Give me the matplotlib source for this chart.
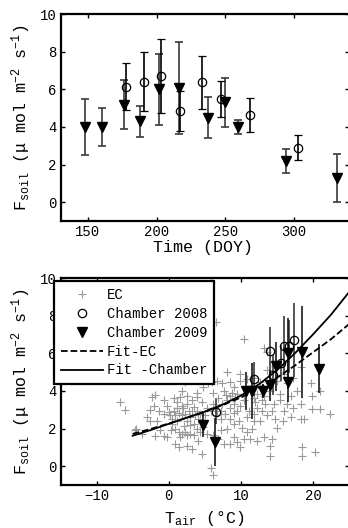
import numpy as np
import matplotlib
matplotlib.use("Agg")
import matplotlib.pyplot as plt
from matplotlib.lines import Line2D

plt.rcParams['font.family'] = ['Liberation Mono', 'DejaVu Sans']
plt.rcParams['mathtext.fontset'] = 'custom'
plt.rcParams['mathtext.rm'] = 'Liberation Mono'
plt.rcParams['mathtext.it'] = 'Liberation Mono'
plt.rcParams['font.size'] = 10

# chamber 2009 (triangles)
doy_2009 = [148, 160, 176, 188, 202, 216, 237, 250, 259, 294, 331]
flux_2009 = [4.0, 4.0, 5.18, 4.3, 6.0, 6.07, 4.5, 5.3, 4.0, 2.2, 1.27]
err_2009 = [1.5, 1.0, 1.3, 0.83, 1.9, 2.47, 1.1, 1.3, 0.37, 0.65, 1.27]
tair_2009 = [11.6, 10.7, 20.9, 14.0, 16.6, 18.5, 16.6, 14.9, 13.1, 4.75, 6.45]

# chamber 2008 (circles)
doy_2008 = [178, 191, 203, 217, 233, 247, 268, 303]
flux_2008 = [6.13, 6.4, 6.7, 4.84, 6.38, 5.48, 4.63, 2.9]
err_2008 = [1.25, 1.56, 1.95, 1.06, 1.4, 0.97, 0.9, 0.65]
tair_2008 = [14.0, 16.0, 17.4, 14.4, 16.7, 15.6, 11.8, 6.55]

# eddy covariance points
ec_t = [-6.7, -6.0, -4.7, -3.7, -2.6, -2.3, -1.9, -1.4, -0.7, -0.7, -2.6, -1.6, -1.2, -0.7, -1.9,
        -0.25, 0.0, 0.2, 0.45, 0.7, 0.9, 1.1, 0.45, 0.9, 1.4, 1.8, 2.3, 2.5, 3.0, 3.45,
        1.6, 0.9, 1.4, 2.5, 3.2, 4.6, 4.1, 5.8, 6.2, 2.1, 2.5, 3.0, 3.45, 3.9, 4.4,
        4.8, 5.3, 1.8, 2.3, 3.2, 3.9, 4.4, 2.5, 3.2, 3.9, 4.6, 5.3, 0.7, 1.6, 2.5,
        1.8, 3.9, 4.8, 5.5, 5.3, 6.0, 6.7, 7.4, 8.1, 8.5, 9.0, 9.9, 9.5, 6.2, 6.9,
        7.4, 8.1, 8.5, 9.0, 9.5, 9.9, 10.4, 6.2, 5.8, 6.5, 7.2, 7.8, 8.5, 9.0, 9.7,
        10.2, 10.9, 11.1, 11.8, 12.3, 12.9, 13.4, 11.8, 12.7, 13.6, 14.3, 14.6, 15.5, 16.4, 16.0,
        17.3, 18.3, 19.9, 21.0, 22.4, 18.3, 18.7, 18.5, 18.5, 20.3, 14.1, 14.1, 15.0, 14.3, 13.2,
        12.2, 11.3, 10.4, 9.5, 9.0, 10.9, 11.5, 8.1, 7.2, 6.2, 6.9, 7.6, 8.5, 9.9, 13.6,
        14.8, 16.0, 15.0, 16.4, 17.3, 18.3, 19.7, 19.9, 21.0, 14.1, 13.2, 12.3, 11.8, 11.3, 12.7,
        13.6, 13.2, 15.5, 16.9, 17.8, 5.8, 6.5, 10.4, 4.8, 4.1, 3.2, 2.3, 9.9, 10.9, 11.8,
        9.0, 6.7, 5.1, 4.1, 16.9, 15.8, 14.8, 1.1, 1.8, 1.4, 2.8, 3.5, 3.7, 7.6, 8.5,
        9.2, 7.2, -4.6, -3.0, -2.0, -0.3, 0.3, 1.2, 2.0, 2.9, 7.9, 8.8, 12.0, 13.0]
ec_f = [3.4, 3.0, 1.9, 1.7, 3.0, 3.7, 3.8, 2.95, 3.5, 2.8, 2.4, 2.4, 1.9, 1.6, 1.6,
        1.55, 2.9, 2.7, 2.5, 2.95, 2.7, 2.4, 2.25, 2.0, 1.8, 1.7, 1.8, 1.65, 1.7, 1.65,
        1.55, 1.2, 1.0, 1.1, 0.9, 0.65, 1.35, -0.1, -0.45, 2.15, 2.4, 2.6, 2.25, 2.0, 1.8,
        2.1, 1.7, 2.7, 2.8, 2.95, 2.95, 2.8, 3.3, 3.5, 3.7, 3.4, 3.1, 3.6, 3.7, 3.75,
        4.0, 3.9, 4.2, 4.4, 4.6, 4.45, 4.55, 4.4, 5.0, 4.45, 4.2, 4.55, 3.85, 3.9, 3.65,
        3.3, 3.5, 3.1, 3.3, 2.95, 3.2, 3.5, 3.3, 2.95, 2.7, 2.5, 2.8, 2.5, 2.25, 2.4,
        2.05, 2.6, 2.95, 2.8, 3.1, 2.95, 3.3, 2.4, 2.4, 2.7, 2.95, 3.3, 3.5, 3.3, 2.95,
        3.1, 3.3, 3.05, 3.05, 2.8, 2.5, 2.5, 1.0, 0.55, 0.75, 1.1, 0.55, 2.05, 1.45, 1.55,
        1.35, 1.45, 1.45, 1.3, 1.55, 1.8, 2.0, 2.0, 1.9, 1.65, 1.45, 1.2, 1.2, 1.0, 5.1,
        5.35, 4.9, 4.55, 4.4, 4.7, 5.25, 4.4, 3.75, 4.0, 4.0, 3.75, 3.85, 3.6, 4.0, 4.45,
        6.05, 6.3, 3.85, 3.75, 4.0, 9.77, 7.65, 6.76, 4.9, 4.55, 4.7, 4.45, 4.9, 4.65, 4.7,
        2.85, 2.95, 2.7, 2.5, 2.6, 2.4, 2.5, 3.1, 3.2, 2.85, 2.95, 3.15, 2.7, 4.0, 3.75,
        3.6, 2.95, 2.0, 2.6, 3.2, 3.2, 1.9, 3.4, 3.1, 2.2, 3.8, 3.9, 3.4, 3.5]

# fitted curves
fit_t = [-5, -2.5, 0, 2.5, 5, 7.5, 10, 12.5, 15, 17.5, 20, 22.5, 25]
fit_ec = [1.72, 1.98, 2.27, 2.57, 2.9, 3.25, 3.65, 4.15, 4.7, 5.35, 6.05, 6.75, 7.55]
fit_ch = [1.62, 1.92, 2.25, 2.58, 2.9, 3.28, 3.75, 4.35, 5.1, 6.0, 7.0, 8.05, 9.25]

ylab = r'F$_{\rm soil}$ (μ mol m$^{-2}$ s$^{-1}$)'

fig = plt.figure(figsize=(3.48, 5.28), dpi=100)
ax1 = fig.add_axes([0.1739, 0.5814, 0.829, 0.392])
ax2 = fig.add_axes([0.1739, 0.0814, 0.829, 0.392])

# top: time series
ax1.errorbar(doy_2009, flux_2009, yerr=err_2009, fmt='v', color='k', ecolor='#3a3a3a',
             ms=7, elinewidth=1.2, capsize=3, capthick=1.2)
ax1.errorbar(doy_2008, flux_2008, yerr=err_2008, fmt='o', color='k', mfc='none',
             ms=6, mew=0.9, elinewidth=1.2, capsize=3, capthick=1.2)
ax1.set_xlim(130, 340)
ax1.set_xticks([150, 200, 250, 300])
ax1.set_xlabel('Time (DOY)', fontsize=12)
ax1.xaxis.set_label_coords(0.495, -0.09)

# bottom: temperature response
ax2.plot(ec_t, ec_f, '+', color='#999999', ms=6, mew=0.8)
ax2.errorbar(tair_2008, flux_2008, yerr=err_2008, fmt='none', ecolor='#3a3a3a',
             elinewidth=1.2, capsize=0)
ax2.errorbar(tair_2009, flux_2009, yerr=err_2009, fmt='none', ecolor='#1a1a1a',
             elinewidth=1.2, capsize=0)
ax2.plot(tair_2008, flux_2008, 'o', color='k', mfc='none', ms=6, mew=0.9)
ax2.plot(tair_2009, flux_2009, 'v', color='k', ms=7)
ax2.plot(fit_t, fit_ec, '--', color='k', lw=1.3)
ax2.plot(fit_t, fit_ch, '-', color='k', lw=1.3)
ax2.set_xlim(-15, 25)
ax2.set_xticks([-10, 0, 10, 20])
ax2.set_xlabel(r'T$_{\rm air}$ (°C)', fontsize=12)
ax2.xaxis.set_label_coords(0.5, -0.115)

for ax in (ax1, ax2):
    ax.set_ylim(-1, 10)
    ax.set_yticks([0, 2, 4, 6, 8, 10])
    ax.set_ylabel(ylab, fontsize=12)
    ax.yaxis.set_label_coords(-0.095, 0.5)
    ax.tick_params(direction='in', top=True, right=True, length=3, width=1, pad=3)
    for s in ax.spines.values():
        s.set_linewidth(1.6)

handles = [Line2D([], [], ls='none', marker='+', color='#999999', ms=6, mew=0.8),
           Line2D([], [], ls='none', marker='o', color='k', mfc='none', ms=6, mew=0.9),
           Line2D([], [], ls='none', marker='v', color='k', ms=7),
           Line2D([], [], ls='--', color='k', lw=1.3),
           Line2D([], [], ls='-', color='k', lw=1.3)]
labels = ['EC', 'Chamber 2008', 'Chamber 2009', 'Fit-EC', 'Fit -Chamber']
leg = fig.legend(handles, labels, loc='upper left', bbox_to_anchor=(54 / 348, 1 - 281 / 528),
                 fancybox=False, framealpha=1, edgecolor='k', borderpad=0.5,
                 labelspacing=0.35, handlelength=3.0, handletextpad=0.3, borderaxespad=0)
leg.get_frame().set_linewidth(1.6)

plt.savefig('out.png', dpi=100)
